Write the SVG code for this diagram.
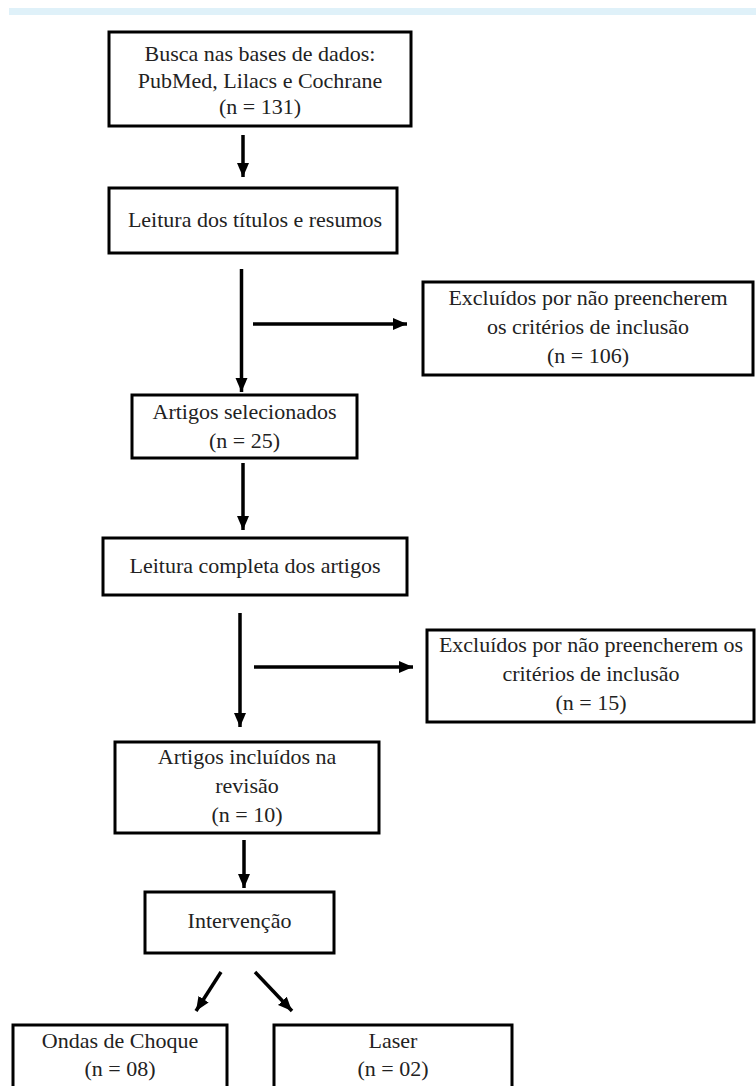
<svg xmlns="http://www.w3.org/2000/svg" width="756" height="1086" viewBox="0 0 756 1086">
<style>
.box{fill:#fff;stroke:#000;stroke-width:3}
.t{font-family:"Liberation Serif","Times New Roman",serif;font-size:22px;fill:#222;text-anchor:middle}
.c{stroke:#000;stroke-width:3.5;fill:none;marker-end:url(#ah)}
</style>
<defs>
<marker id="ah" markerUnits="userSpaceOnUse" markerWidth="14" markerHeight="14" viewBox="0 0 14 12" refX="14" refY="6" orient="auto">
<path d="M0,0 L14,6 L0,12 Z" fill="#000"/>
</marker>
</defs>
<rect x="0" y="0" width="756" height="1086" fill="#fff"/>
<rect x="9" y="8" width="747" height="7" fill="#dff1f9"/>
<g id="connectors">
<line class="c" x1="243" y1="135" x2="243" y2="177"/>
<line class="c" x1="241.5" y1="269" x2="241.5" y2="392"/>
<line class="c" x1="253" y1="324" x2="407" y2="324"/>
<line class="c" x1="243" y1="463" x2="243" y2="530"/>
<line class="c" x1="240" y1="613" x2="240" y2="727"/>
<line class="c" x1="254" y1="667" x2="413" y2="667"/>
<line class="c" x1="244" y1="840" x2="244" y2="888"/>
<line class="c" x1="221" y1="972" x2="196" y2="1011"/>
<line class="c" x1="255" y1="972" x2="292" y2="1011"/>
</g>
<g id="n1"><rect class="box" x="109" y="32" width="302" height="94"/>
<text class="t" x="260" y="61">Busca nas bases de dados:</text>
<text class="t" x="260" y="88">PubMed, Lilacs e Cochrane</text>
<text class="t" x="260" y="114">(n = 131)</text></g>
<g id="n2"><rect class="box" x="109" y="188" width="288" height="65"/>
<text class="t" x="255" y="227">Leitura dos títulos e resumos</text></g>
<g id="n3"><rect class="box" x="423" y="282" width="330" height="93"/>
<text class="t" x="588" y="305">Excluídos por não preencherem</text>
<text class="t" x="588" y="334">os critérios de inclusão</text>
<text class="t" x="588" y="363">(n = 106)</text></g>
<g id="n4"><rect class="box" x="132" y="395" width="225" height="63"/>
<text class="t" x="244.5" y="419">Artigos selecionados</text>
<text class="t" x="244.5" y="448">(n = 25)</text></g>
<g id="n5"><rect class="box" x="103" y="538" width="304" height="57"/>
<text class="t" x="255" y="573">Leitura completa dos artigos</text></g>
<g id="n6"><rect class="box" x="427" y="630" width="327" height="92"/>
<text class="t" x="591" y="652">Excluídos por não preencherem os</text>
<text class="t" x="591" y="681">critérios de inclusão</text>
<text class="t" x="591" y="710">(n = 15)</text></g>
<g id="n7"><rect class="box" x="115" y="742" width="264" height="91"/>
<text class="t" x="247" y="764">Artigos incluídos na</text>
<text class="t" x="247" y="793">revisão</text>
<text class="t" x="247" y="822">(n = 10)</text></g>
<g id="n8"><rect class="box" x="145" y="892" width="189" height="61"/>
<text class="t" x="239.5" y="928">Intervenção</text></g>
<g id="n9"><rect class="box" x="13" y="1025" width="214" height="80"/>
<text class="t" x="120" y="1048">Ondas de Choque</text>
<text class="t" x="120" y="1076">(n = 08)</text></g>
<g id="n10"><rect class="box" x="274" y="1025" width="238" height="80"/>
<text class="t" x="393" y="1048">Laser</text>
<text class="t" x="393" y="1076">(n = 02)</text></g>
</svg>
